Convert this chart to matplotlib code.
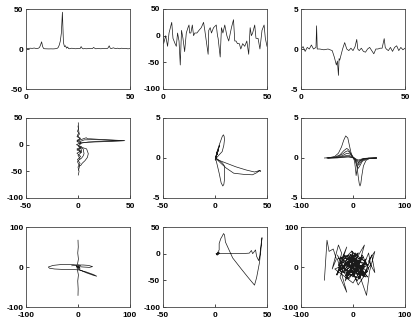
import matplotlib
matplotlib.use('Agg')
import matplotlib.pyplot as plt

# row 1: time series
t1_x = [0, 1, 2, 3, 4, 5, 6, 6.5, 7, 7.5, 8, 8.5, 9, 10, 11, 12, 13, 14, 15, 15.5, 16, 16.5, 17, 17.5,
        18, 18.5, 19, 19.5, 20, 20.5, 21, 22, 23, 24, 25, 26, 26.5, 27, 27.5, 28, 29, 30, 31, 32, 32.5,
        33, 33.5, 34, 35, 36, 37, 38, 39, 39.5, 40, 40.5, 41, 42, 43, 44, 45, 46, 47, 48, 49, 50]
t1_y = [1, 0.5, 1, 0.8, 1.2, 0.5, 1, 2, 5, 9, 3, 0.5, 0.3, 0.2, 0.1, 0.2, 0.1, 0.3, 0.8, 2, 5, 10, 20, 46,
        8, 3, 4, 1, 2.5, 0.5, 0.3, 1, 0.5, 0.3, 0.8, 0.5, 3, 1, 0.2, 0.5, 0.3, 0.5, 0.4, 0.6, 2,
        1, 0.3, 0.4, 0.5, 0.3, 0.6, 0.8, 0.5, 1.5, 4, 1, 0.5, 1.5, 0.5, 1, 0.3, 1, 0.5, 0.8, 0.2, 0.5]

t2_x = [0, 0.3, 1.3, 2.2, 2.9, 4.2, 4.8, 5.8, 6.4, 7, 7.7, 8.3, 8.9, 9.6, 10.4, 11.2, 12, 12.5, 12.8, 13.4,
        14.1, 14.7, 15.3, 16.3, 17.3, 18.4, 19.5, 20.1, 21.7, 22, 22.7, 23.3, 24.3, 25.6, 26.2, 26.5, 27.5,
        28.1, 28.8, 29.7, 30.7, 31.6, 32.9, 33.9, 34.5, 35.1, 35.8, 36.7, 37.4, 38.3, 39.3, 40.3, 41.2,
        41.9, 42.5, 43.1, 44.1, 44.7, 45.7, 46.6, 47.6, 48.6, 49.2, 50]
t2_y = [45, -15, 0, -20, 5, 25, -5, -15, -20, 5, -10, -55, 10, -5, -30, 5, 15, 20, 5, 5,
        20, 0, 5, 5, 10, 15, 25, 10, -35, 10, 15, 5, 15, 20, 0, -5, -40,
        15, 5, 20, 0, -10, 15, 30, -10, -10, -15, -15, -25, -15, -20, -10, -35,
        15, 0, 5, 20, -5, -5, -25, 10, 20, -5, -20]

t3_x = [0, 1, 2, 3, 4, 5, 6, 7.2, 7.5, 7.8, 9, 11, 13, 15, 16, 17, 17.5, 18, 18.3, 18.6, 19,
        20, 21, 22, 23, 24, 25, 26, 26.8, 27.3, 28, 29, 30, 31, 32, 33, 34, 35, 36, 37, 38, 39, 40,
        40.5, 41, 42, 43, 44, 45, 46, 47, 48, 49, 50]
t3_y = [0, 0.3, -0.3, 0.2, 0, 0.5, 0, 0.2, 2.9, 0, 0, -0.1, 0, -0.2, -1, -2, -1.5, -3.3, -1.2, -1.4, -1,
        0, 0.8, 0, -0.2, 0.1, -0.2, 0.3, 1.2, 0, -0.2, 0.1, -0.3, -0.4, 0, 0.2, -0.2, -0.6, 0, 0, 0.1, 0.1, 1.3,
        0.2, 0, -0.2, 0.2, -0.3, 0.2, 0.4, -0.2, 0.2, -0.1, 0.1]

# row 2, col 1
a_spike_x = [0.3, 0.5, -0.5, 1.5, -1, 2.5, -1, 3, -1.5, 3.5, -1, 3, -1, 2.5, -0.5, 2, 0, 1, 0.3]
a_spike_y = [41, 30, 25, 20, 15, 12, 8, 4, 0, -4, -8, -12, -16, -22, -28, -35, -42, -50, -57]
a_fill_x = [0, 1, -0.5, 2, -1, 3, 0, 2.5, -1, 3.5, 0, 2, -0.5, 1.5, 0.5]
a_fill_y = [35, 22, 18, 10, 6, 2, -2, -6, -10, -14, -20, -26, -32, -40, -48]
a_br1_x = [1, 5, 8, 9, 12, 20, 30, 45, 30, 15, 5, 1]
a_br1_y = [8, 11, 13, 11, 11, 10, 9, 7.5, 6, 5, 4, 2]
a_br2_x = [2, 6, 15, 30, 44, 25, 10, 3]
a_br2_y = [6, 9, 9.5, 8.5, 7.5, 6.5, 5, 3]
a_lobe1_x = [1, 3.5, 8.3, 9.9, 9, 6.7, 4, 2.6, 1]
a_lobe1_y = [-3, -5, -8, -17, -24, -30, -35, -39, -40]
a_lobe2_x = [1, 5, 5.8, 5, 3.5, 1.5]
a_lobe2_y = [-4, -8, -17, -21, -25, -28]
a_loop_x = [1, 2.6, 3.5, 2.6, 1.5, 1]
a_loop_y = [-8, -7, -11, -15, -13, -9]

# row 2, col 2
b_up_x = [0.5, 2, 4, 5.9, 7, 8.1, 8.8, 9.1, 8.5, 6.9, 4, 2, 0.5]
b_up_y = [0, 0.8, 1.6, 2.3, 2.7, 2.9, 2.7, 2.3, 1.6, 0.8, 0.4, 0.1, 0]
b_core_x = [0.5, 1.5, 0.5, 2.5, 1, 3.5, 1.5, 4.5, 0.5, 3, 0.2]
b_core_y = [-0.3, 0.2, 0, 0.6, 0.3, 1.1, 0.6, 1.6, 0, 0.9, -0.2]
b_down_x = [0.5, 2, 4, 5.9, 7.5, 8.5, 9.1, 9.3, 9.1, 7, 4, 1.5, 0.5]
b_down_y = [0, -0.8, -1.9, -3.1, -3.5, -3.3, -2.7, -1.8, -1.0, -0.6, -0.3, -0.1, 0]
b_right_x = [0.5, 4, 10, 20, 30, 38, 42, 44, 43, 40, 36, 28, 18, 10.7, 6, 2, 0.5]
b_right_y = [0, -0.3, -0.6, -1.1, -1.5, -1.75, -1.6, -1.65, -1.55, -1.85, -2.1, -2.05, -1.9, -1.25, -0.7, -0.2, 0]

# row 2, col 3
c1_x = [-55, -45, -35, -28, -22, -18, -14, -10, -7, -4, -1, 2, 5, 8, 10, 12, 13.5, 15, 17, 20, 25, 32, 45]
c1_y = [0, 0.05, 0.2, 0.6, 1.4, 2.2, 2.76, 2.5, 1.6, 0.7, 0.2, 0, -0.3, -1.2, -2.3, -3.2, -3.5, -3.2, -2.2, -1.0, -0.3, -0.05, 0]
c2_x = [-50, -35, -25, -18, -12, -8, -4, 0, 3, 5, 6, 7, 9, 12, 18, 30, 45]
c2_y = [0, 0.1, 0.4, 0.9, 1.2, 1.0, 0.5, 0.1, -0.4, -1.5, -2.2, -1.8, -0.9, -0.4, -0.15, -0.03, 0]
c3_x = [-50, -30, -20, -14, -10, -6, -2, 1, 4, 7, 10, 13, 18, 28, 45]
c3_y = [0, 0.15, 0.5, 0.8, 0.9, 0.7, 0.3, 0, -0.3, -0.9, -1.3, -1.0, -0.4, -0.1, 0]
c4_x = [-48, -30, -20, -13, -9, -5, -1, 2, 5, 8, 11, 14, 20, 30, 45]
c4_y = [0, 0.1, 0.3, 0.55, 0.6, 0.45, 0.15, 0, -0.25, -0.7, -0.9, -0.6, -0.2, -0.05, 0]
c5_y = [0, 0.05, 0.2, 0.3, 0.35, 0.25, 0.1, 0, -0.2, -0.45, -0.6, -0.4, -0.15, -0.03, 0]
c6_y = [0, 0.03, 0.12, 0.2, 0.22, 0.15, 0.05, 0, -0.15, -0.3, -0.4, -0.3, -0.1, -0.02, 0]
c7_y = [0, 0.02, 0.06, 0.1, 0.12, 0.08, 0.03, 0, -0.1, -0.2, -0.25, -0.18, -0.06, -0.01, 0]

# row 3, col 1
d_spike_x = [0, 0.5, -0.5, 0.8, -0.8, 1, -1, 0.8, -0.5, 0.3, 0]
d_spike_y = [67, 50, 35, 20, 8, 0, -8, -20, -35, -55, -71]
d_loop_x = [5, -10, -30, -48, -57, -55, -45, -30, -15, 0, 15, 30, 36, 30, 15, 5, 0]
d_loop_y = [4, 6, 6.5, 4, 0, -3, -5, -6, -6, -7, -12, -19, -23, -21, -14, -8, -4]
d_side_x = [-12, 0, 10, 20, 28, 22, 10, 0]
d_side_y = [3, 5, 5, 4, 1, -1, 0, 1]
d_core_x = [-3, 3, -4, 4, -3, 3, -2, 2]
d_core_y = [2, -2, 4, -4, 0, 3, -3, 0]

# row 3, col 2
e_blob_x = [1, 3.5, 1.5, 4, 2, 4.5, 2.5, 3, 1.5]
e_blob_y = [0, 2, -2, 3, -3, 1, -1, 2, 0]
e_path_x = [2, 4, 4, 5.5, 7, 8.2, 9.2, 10, 17, 25, 32, 38, 40, 42.7, 44, 45.2, 44.5, 43, 42, 40, 39, 36.2, 35, 33, 25, 15, 5, 2]
e_path_y = [0, 7, 19, 28, 33, 37.7, 35, 22, -8, -28, -45, -59, -45, -17.5, 5, 30, 20, -5, -13, -5, 7, 0, 6, 1, 0, 0.5, 0, 0]

# row 3, col 3
f_x = [-55, -50, -46, -38, -32, -40, -28, -22, -30, -12,
       -25, -2, 8, 22, 4, -15, -5, 15, 25, 10,
       30, 34, 18, -10, -25, -12, -30, 5, -20, 18,
       -35, 0, 25, -5, 28, 8, -18, 10, -28, -8,
       20, -12, 26, -3, 26, 32, 42, 30, 42, 36,
       20, 5, -10, -30, -20, -5, 12, 25, 8, -15,
       -32, -22, 0, 18, 30, 10, -8, -25, -5, 15,
       -20, 15, -25, 22, -15, 28, -8, 12, -28, 5,
       20, -18, 30, -5, 10, -22, 25, 0, -12, 18]
f_y = [-33, 67, 39, 45, 20, -5, 55, 35, -20, 50,
       10, 40, -10, 55, 15, -35, 30, -5, 20, -30,
       35, 5, -20, 25, -25, -63, 20, 35, -15, 25,
       -5, -40, 15, 30, -25, 10, -10, 35, 5, -30,
       25, -15, 10, 40, -71, -10, 39, 15, -14, 30,
       -25, 20, -20, 30, 0, 15, -30, 10, -35, 25,
       -20, 5, -25, 30, -5, -45, 10, -10, 20, 0,
       12, -18, 25, 8, -22, -12, 28, -28, -8, 22,
       -20, 30, 5, -15, 35, -2, -25, 18, -30, 6]

plt.rcParams['font.family'] = ['Liberation Sans', 'DejaVu Sans']
plt.rcParams['axes.unicode_minus'] = False

fig = plt.figure(figsize=(4.15, 3.22), dpi=100)
lefts = [26 / 415, 163 / 415, 301 / 415]
bottoms = [233 / 322, 124 / 322, 15 / 322]
w, h = 104 / 415, 80 / 322

def make_ax(r, c, xlim, ylim, xticks, yticks):
    ax = fig.add_axes([lefts[c], bottoms[r], w, h])
    ax.set_xlim(xlim)
    ax.set_ylim(ylim)
    ax.set_xticks(xticks)
    ax.set_yticks(yticks)
    ax.tick_params(direction='in', length=2, width=0.5, labelsize=6)
    ax.tick_params(axis='x', pad=3.5)
    ax.tick_params(axis='y', pad=2)
    for lab in ax.get_xticklabels() + ax.get_yticklabels():
        lab.set_fontweight('bold')
    for s in ax.spines.values():
        s.set_linewidth(0.6)
        s.set_color('#444444')
    return ax

lw = 0.5
col = '#1a1a1a'

ax = make_ax(0, 0, (0, 50), (-50, 50), [0, 50], [-50, 0, 50])
ax.plot(t1_x, t1_y, color=col, lw=lw)

ax = make_ax(0, 1, (0, 50), (-100, 50), [0, 50], [-100, -50, 0, 50])
ax.plot(t2_x, t2_y, color=col, lw=lw)

ax = make_ax(0, 2, (0, 50), (-5, 5), [0, 50], [-5, 0, 5])
ax.plot(t3_x, t3_y, color=col, lw=lw)

ax = make_ax(1, 0, (-50, 50), (-100, 50), [-50, 0, 50], [-100, -50, 0, 50])
for xs, ys in [(a_spike_x, a_spike_y), (a_fill_x, a_fill_y), (a_br1_x, a_br1_y), (a_br2_x, a_br2_y),
               (a_lobe1_x, a_lobe1_y), (a_lobe2_x, a_lobe2_y), (a_loop_x, a_loop_y)]:
    ax.plot(xs, ys, color=col, lw=lw)

ax = make_ax(1, 1, (-50, 50), (-5, 5), [-50, 0, 50], [-5, 0, 5])
for xs, ys in [(b_up_x, b_up_y), (b_core_x, b_core_y), (b_down_x, b_down_y), (b_right_x, b_right_y)]:
    ax.plot(xs, ys, color=col, lw=lw)

ax = make_ax(1, 2, (-100, 100), (-5, 5), [-100, 0, 100], [-5, 0, 5])
for xs, ys in [(c1_x, c1_y), (c2_x, c2_y), (c3_x, c3_y), (c4_x, c4_y),
               (c4_x, c5_y), (c4_x, c6_y), (c4_x, c7_y)]:
    ax.plot(xs, ys, color=col, lw=lw)

ax = make_ax(2, 0, (-100, 100), (-100, 100), [-100, 0, 100], [-100, 0, 100])
for xs, ys in [(d_spike_x, d_spike_y), (d_loop_x, d_loop_y), (d_side_x, d_side_y), (d_core_x, d_core_y)]:
    ax.plot(xs, ys, color=col, lw=lw)

ax = make_ax(2, 1, (-50, 50), (-100, 50), [-50, 0, 50], [-100, -50, 0, 50])
for xs, ys in [(e_blob_x, e_blob_y), (e_path_x, e_path_y)]:
    ax.plot(xs, ys, color=col, lw=lw)

ax = make_ax(2, 2, (-100, 100), (-100, 100), [-100, 0, 100], [-100, 0, 100])
ax.plot(f_x, f_y, color=col, lw=lw)

fig.savefig('out.png', dpi=100)
